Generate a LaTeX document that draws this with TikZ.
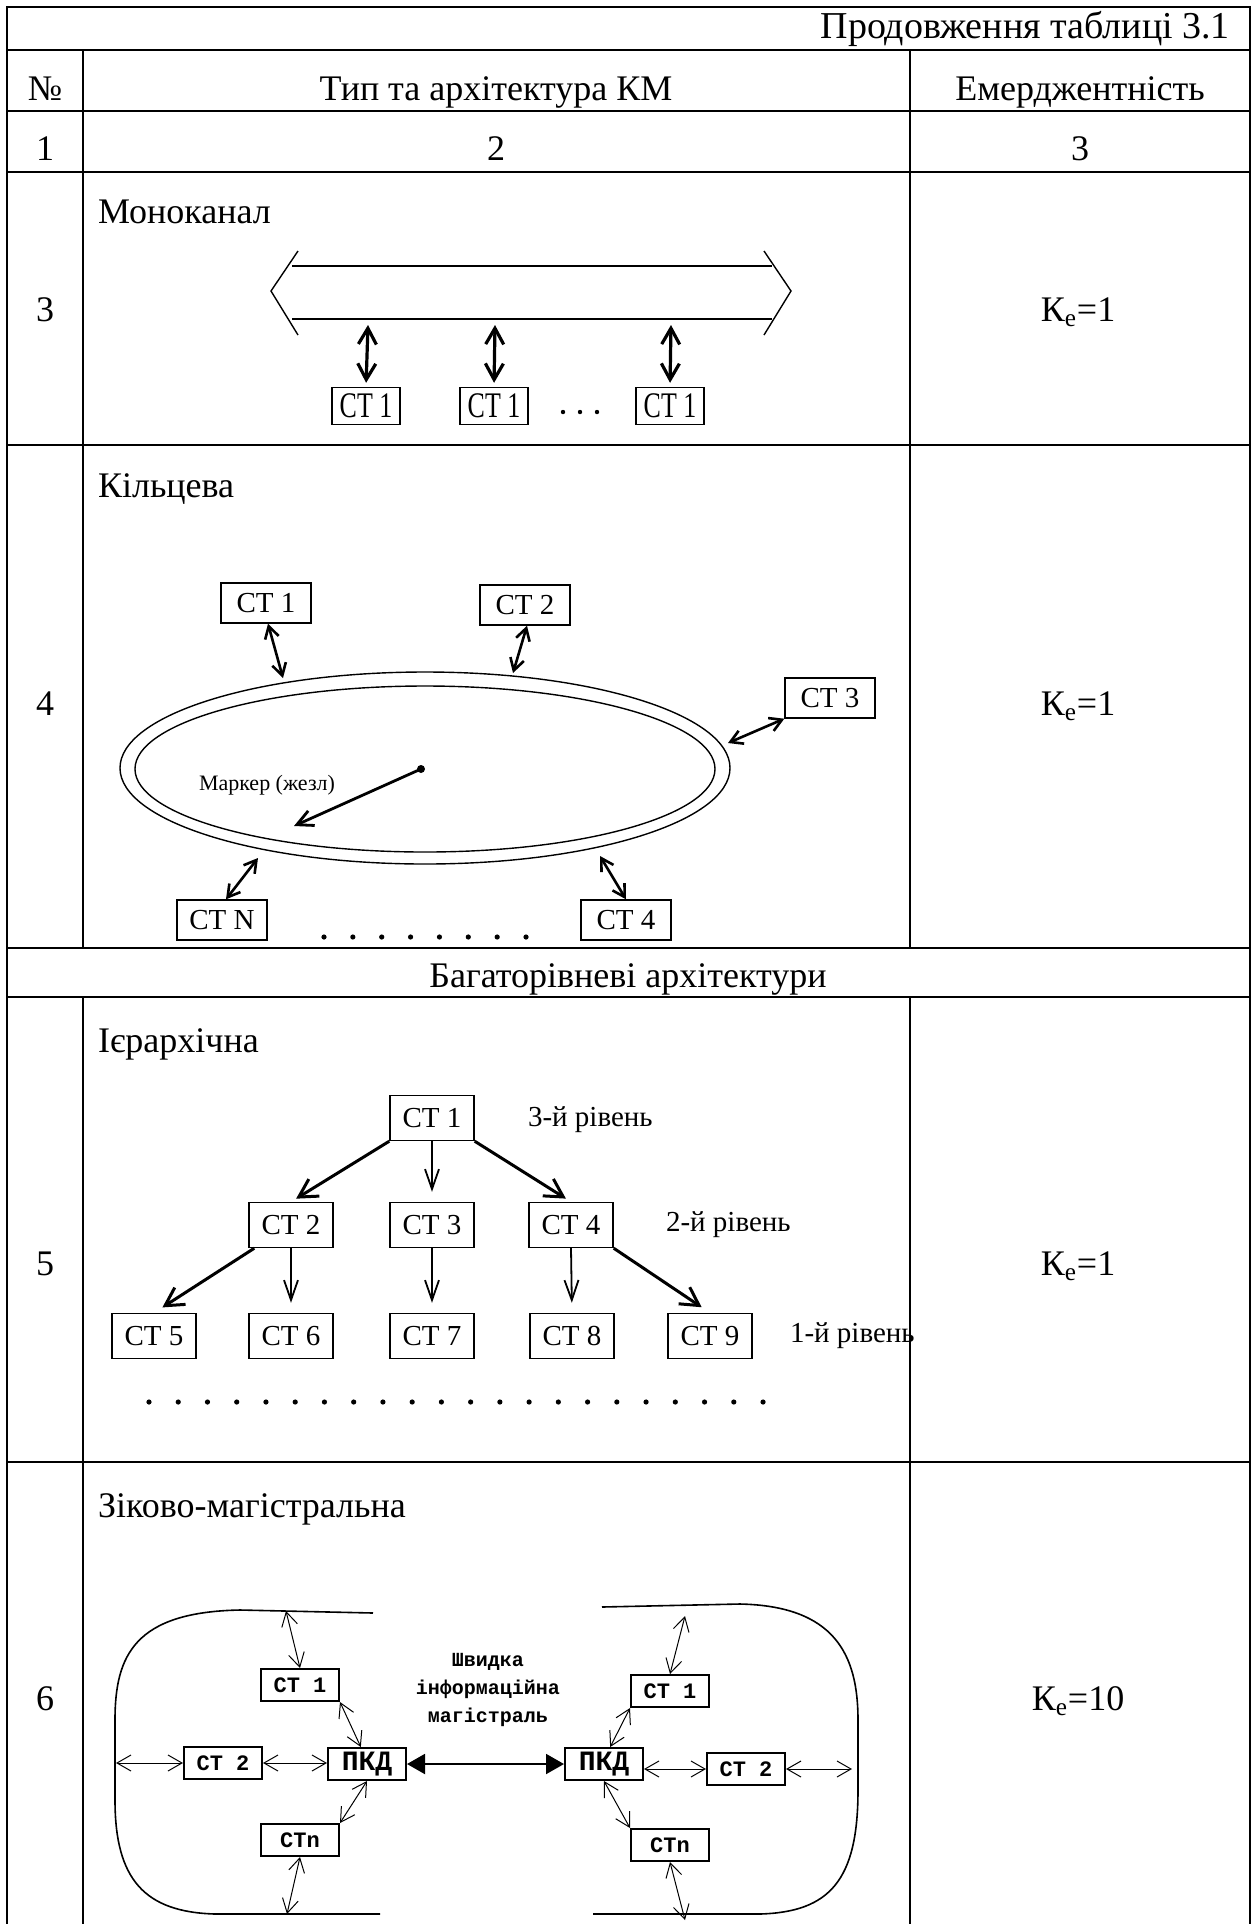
\documentclass[tikz,border=0pt]{standalone}
\usepackage{fontspec}
\setmainfont{Liberation Serif}
\newfontfamily\narrowserif[FakeStretch=0.72]{Liberation Serif}
\newfontfamily\pixfont{Liberation Mono}
\usetikzlibrary{arrows.meta}

\tikzset{
  tabline/.style={line width=1.4pt},
  ctbox/.style={draw,line width=0.7pt,inner sep=0pt,minimum width=45pt,minimum height=20pt,font=\fontsize{14.5}{16}\selectfont},
  monobox/.style={draw,line width=0.7pt,inner sep=0pt,minimum width=34pt,minimum height=18.5pt,font=\narrowserif\fontsize{18}{20}\selectfont},
  pixbox/.style={draw,line width=1pt,inner sep=0pt,minimum width=39pt,minimum height=16pt,font=\pixfont\bfseries\fontsize{11}{12}\selectfont},
  busarrow/.style={line width=1.6pt,{Straight Barb[length=8pt,width=9pt]}-{Straight Barb[length=8pt,width=9pt]}},
  ringarrow/.style={line width=1.3pt,{Straight Barb[length=6pt,width=7pt]}-{Straight Barb[length=6pt,width=7pt]}},
  treearrow/.style={line width=1.5pt,-{Straight Barb[length=9pt,width=10pt]}},
  treedown/.style={line width=0.9pt,-{Straight Barb[length=10pt,width=7pt]}},
  linkarrow/.style={line width=0.5pt,{Straight Barb[length=7pt,width=8pt]}-{Straight Barb[length=7pt,width=8pt]}},
}

\begin{document}
\begin{tikzpicture}[x=0.5pt,y=-0.5pt]

\def\MAINFONT{\fontsize{18}{20}\selectfont}
\def\SMALLFONT{\fontsize{14.5}{16}\selectfont}
	\useasboundingbox (0,0) rectangle (1256,1924);

	% table grid
	\draw[tabline] (7,1924) -- (7,7) -- (1250,7) -- (1250,1924);
	\draw[tabline] (7,50) -- (1250,50);
	\draw[tabline] (7,111) -- (1250,111);
	\draw[tabline] (7,172) -- (1250,172);
	\draw[tabline] (7,445) -- (1250,445);
	\draw[tabline] (7,948) -- (1250,948);
	\draw[tabline] (7,997) -- (1250,997);
	\draw[tabline] (7,1462) -- (1250,1462);
	\draw[tabline] (83,50) -- (83,948);
	\draw[tabline] (83,997) -- (83,1924);
	\draw[tabline] (910,50) -- (910,948);
	\draw[tabline] (910,997) -- (910,1924);

	% header
	\node[anchor=base east,font=\fontsize{19}{21}\selectfont] (cont) at (1237,38) {Продовження таблиці 3.1};
	\node[anchor=base,font=\MAINFONT] (hnum) at (45,100) {№};
	\node[anchor=base,font=\MAINFONT] (htype) at (496,100) {Тип та архітектура КМ};
	\node[anchor=base,font=\MAINFONT] (hemer) at (1080,100) {Емерджентність};
	\node[anchor=base,font=\MAINFONT] (col1) at (45,160) {1};
	\node[anchor=base,font=\MAINFONT] (col2) at (496,160) {2};
	\node[anchor=base,font=\MAINFONT] (col3) at (1080,160) {3};

	% row 3: monochannel
	\node[anchor=base,font=\MAINFONT] (n3) at (45,321) {3};
	\node[anchor=base west,font=\MAINFONT] (t3) at (91,223) {Моноканал};
	\node[anchor=base,font=\MAINFONT] (k3) at (1078,321) {К\textsubscript{е}=1};
	\draw[line width=0.7pt] (292,266) -- (772,266);
	\draw[line width=0.7pt] (292,319) -- (772,319);
	\draw[line width=0.7pt] (298,251) -- (271,291) -- (298,335);
	\draw[line width=0.7pt] (764,251) -- (791,291) -- (764,335);
	\node[monobox] (m1) at (366,406) {СТ 1};
	\node[monobox] (m2) at (494,406) {СТ 1};
	\node[monobox] (m3) at (670,406) {СТ 1};
	\coordinate (b1) at (368,325);
	\coordinate (b2) at (495,325);
	\coordinate (b3) at (671,325);
	\draw[busarrow,shorten >=2pt] (b1) -- (m1.north);
	\draw[busarrow,shorten >=2pt] (b2) -- (m2.north);
	\draw[busarrow,shorten >=2pt] (b3) -- (m3.north);
	\foreach \x in {563,580,597}
		\fill (\x,412) circle [radius=2.2];

	% row 4: ring
	\node[anchor=base,font=\MAINFONT] (n4) at (45,715) {4};
	\node[anchor=base west,font=\MAINFONT] (t4) at (91,497) {Кільцева};
	\node[anchor=base,font=\MAINFONT] (k4) at (1078,715) {К\textsubscript{е}=1};
	\draw[line width=0.7pt] (425,768) ellipse [x radius=305, y radius=96];
	\draw[line width=0.7pt] (425,769) ellipse [x radius=290, y radius=83];
	\node[ctbox] (r1) at (266,603) {СТ 1};
	\node[ctbox] (r2) at (525,605) {СТ 2};
	\node[ctbox] (r3) at (830,698) {СТ 3};
	\node[ctbox] (rn) at (222,920) {СТ N};
	\node[ctbox] (r4) at (626,920) {СТ 4};
	\coordinate (e1) at (283,678);
	\coordinate (e2) at (513,673);
	\coordinate (e3) at (728,743);
	\coordinate (en) at (258,858);
	\coordinate (e4) at (600,856);
	\draw[ringarrow] ([xshift=1pt]r1.south) -- (e1);
	\draw[ringarrow] ([xshift=1pt]r2.south) -- (e2);
	\draw[ringarrow] (r3.south west) -- (e3);
	\draw[ringarrow] (en) -- ([xshift=2pt]rn.north);
	\draw[ringarrow] (e4) -- (r4.north);
	\fill (421,769) circle [radius=4];
	\coordinate (tok) at (421,769);
	\draw[line width=1.4pt,-{Straight Barb[length=8pt,width=8pt]}] (tok) -- (294,826);
	\node[font=\fontsize{11}{12}\selectfont] (marker) at (267,785) {Маркер (жезл)};
	\foreach \i in {0,...,7}
		\fill (324+28.86*\i,937) circle [radius=2.6];

	% multilevel header
	\node[anchor=base,font=\MAINFONT] (multi) at (628,987) {Багаторівневі архітектури};

	% row 5: hierarchy
	\node[anchor=base,font=\MAINFONT] (n5) at (45,1275) {5};
	\node[anchor=base west,font=\MAINFONT] (t5) at (91,1052) {Ієрархічна};
	\node[anchor=base,font=\MAINFONT] (k5) at (1078,1275) {К\textsubscript{е}=1};
	\node[ctbox,minimum width=42pt,minimum height=22.5pt] (h1) at (432,1118) {СТ 1};
	\node[ctbox,minimum width=42pt,minimum height=22.5pt] (h2) at (291,1225) {СТ 2};
	\node[ctbox,minimum width=42pt,minimum height=22.5pt] (h3) at (432,1225) {СТ 3};
	\node[ctbox,minimum width=42pt,minimum height=22.5pt] (h4) at (571,1225) {СТ 4};
	\node[ctbox,minimum width=42pt,minimum height=22.5pt] (h5) at (154,1336) {СТ 5};
	\node[ctbox,minimum width=42pt,minimum height=22.5pt] (h6) at (291,1336) {СТ 6};
	\node[ctbox,minimum width=42pt,minimum height=22.5pt] (h7) at (432,1336) {СТ 7};
	\node[ctbox,minimum width=42pt,minimum height=22.5pt] (h8) at (572,1336) {СТ 8};
	\node[ctbox,minimum width=42pt,minimum height=22.5pt] (h9) at (710,1336) {СТ 9};
	\draw[treearrow,shorten >=3pt] (h1.south west) -- (h2.north);
	\draw[treedown,shorten >=5pt] (h1.south) -- (h3.north);
	\draw[treearrow,shorten >=3pt] (h1.south east) -- (h4.north);
	\draw[treearrow,shorten >=5pt] ([xshift=3pt]h2.south west) -- (h5.north);
	\draw[treedown,shorten >=5pt] (h2.south) -- (h6.north);
	\draw[treedown,shorten >=5pt] (h3.south) -- (h7.north);
	\draw[treedown,shorten >=5pt] (h4.south) -- (h8.north);
	\draw[treearrow,shorten >=5pt] (h4.south east) -- (h9.north);
	\node[anchor=west,font=\SMALLFONT] (lev3) at (521,1120) {3-й рівень};
	\node[anchor=west,font=\SMALLFONT] (lev2) at (659,1225) {2-й рівень};
	\node[anchor=west,font=\SMALLFONT] (lev1) at (783,1336) {1-й рівень};
	\foreach \i in {0,...,21}
		\fill (149+29.24*\i,1402) circle [radius=2.6];

	% row 6: cluster-backbone
	\node[anchor=base,font=\MAINFONT] (n6) at (45,1710) {6};
	\node[anchor=base west,font=\MAINFONT] (t6) at (91,1517) {Зіково-магістральна};
	\node[anchor=base,font=\MAINFONT] (k6) at (1078,1710) {К\textsubscript{е}=10};
	\draw[line width=0.8pt] (373,1613) -- (240,1610) .. controls (135,1612) and (115,1655) .. (115,1720)
		-- (115,1800) .. controls (115,1880) and (145,1912) .. (215,1914) -- (380,1914);
	\draw[line width=0.8pt] (602,1607) -- (740,1604) .. controls (835,1606) and (858,1655) .. (858,1720)
		-- (858,1790) .. controls (858,1880) and (830,1912) .. (760,1914) -- (593,1914);
	\node[pixbox] (lc1) at (300,1685) {СТ 1};
	\node[pixbox] (lc2) at (223,1763) {СТ 2};
	\node[pixbox,font=\pixfont\bfseries\fontsize{14}{14}\selectfont] (lp) at (367,1764) {ПКД};
	\node[pixbox] (lcn) at (300,1840) {СТn};
	\node[pixbox,font=\pixfont\bfseries\fontsize{14}{14}\selectfont] (rp) at (604,1764) {ПКД};
	\node[pixbox] (rc1) at (670,1691) {СТ 1};
	\node[pixbox] (rc2) at (746,1769) {СТ 2};
	\node[pixbox] (rcn) at (670,1845) {СТn};
	\coordinate (lt) at (286,1611);
	\coordinate (lv) at (116,1763);
	\coordinate (lb) at (287,1914);
	\coordinate (rt) at (685,1616);
	\coordinate (rv) at (852,1769);
	\coordinate (rb) at (685,1920);
	\draw[linkarrow] (lt) -- (lc1.north);
	\draw[linkarrow] (lc1.south east) -- (lp.110);
	\draw[linkarrow] (lv) -- (lc2.west);
	\draw[linkarrow] (lc2.east) -- (lc2.east -| lp.west);
	\draw[linkarrow] (lp.south) -- (lcn.north east);
	\draw[linkarrow] (lcn.south) -- (lb);
	\draw[linkarrow] (rt) -- (rc1.north);
	\draw[linkarrow] (rc1.south west) -- (rp.70);
	\draw[linkarrow] (rc2.west -| rp.east) -- (rc2.west);
	\draw[linkarrow] (rc2.east) -- (rv);
	\draw[linkarrow] (rp.south) -- (rcn.north west);
	\draw[linkarrow] (rcn.south) -- (rb);
	\draw[line width=1pt,{Triangle[length=9pt,width=10pt]}-{Triangle[length=9pt,width=10pt]}] (lp.east) -- (rp.west);
	\node[align=center,font=\pixfont\bfseries\fontsize{10}{14}\selectfont] (bbone) at (488,1690) {Швидка\\інформаційна\\магістраль};

\end{tikzpicture}
\end{document}
